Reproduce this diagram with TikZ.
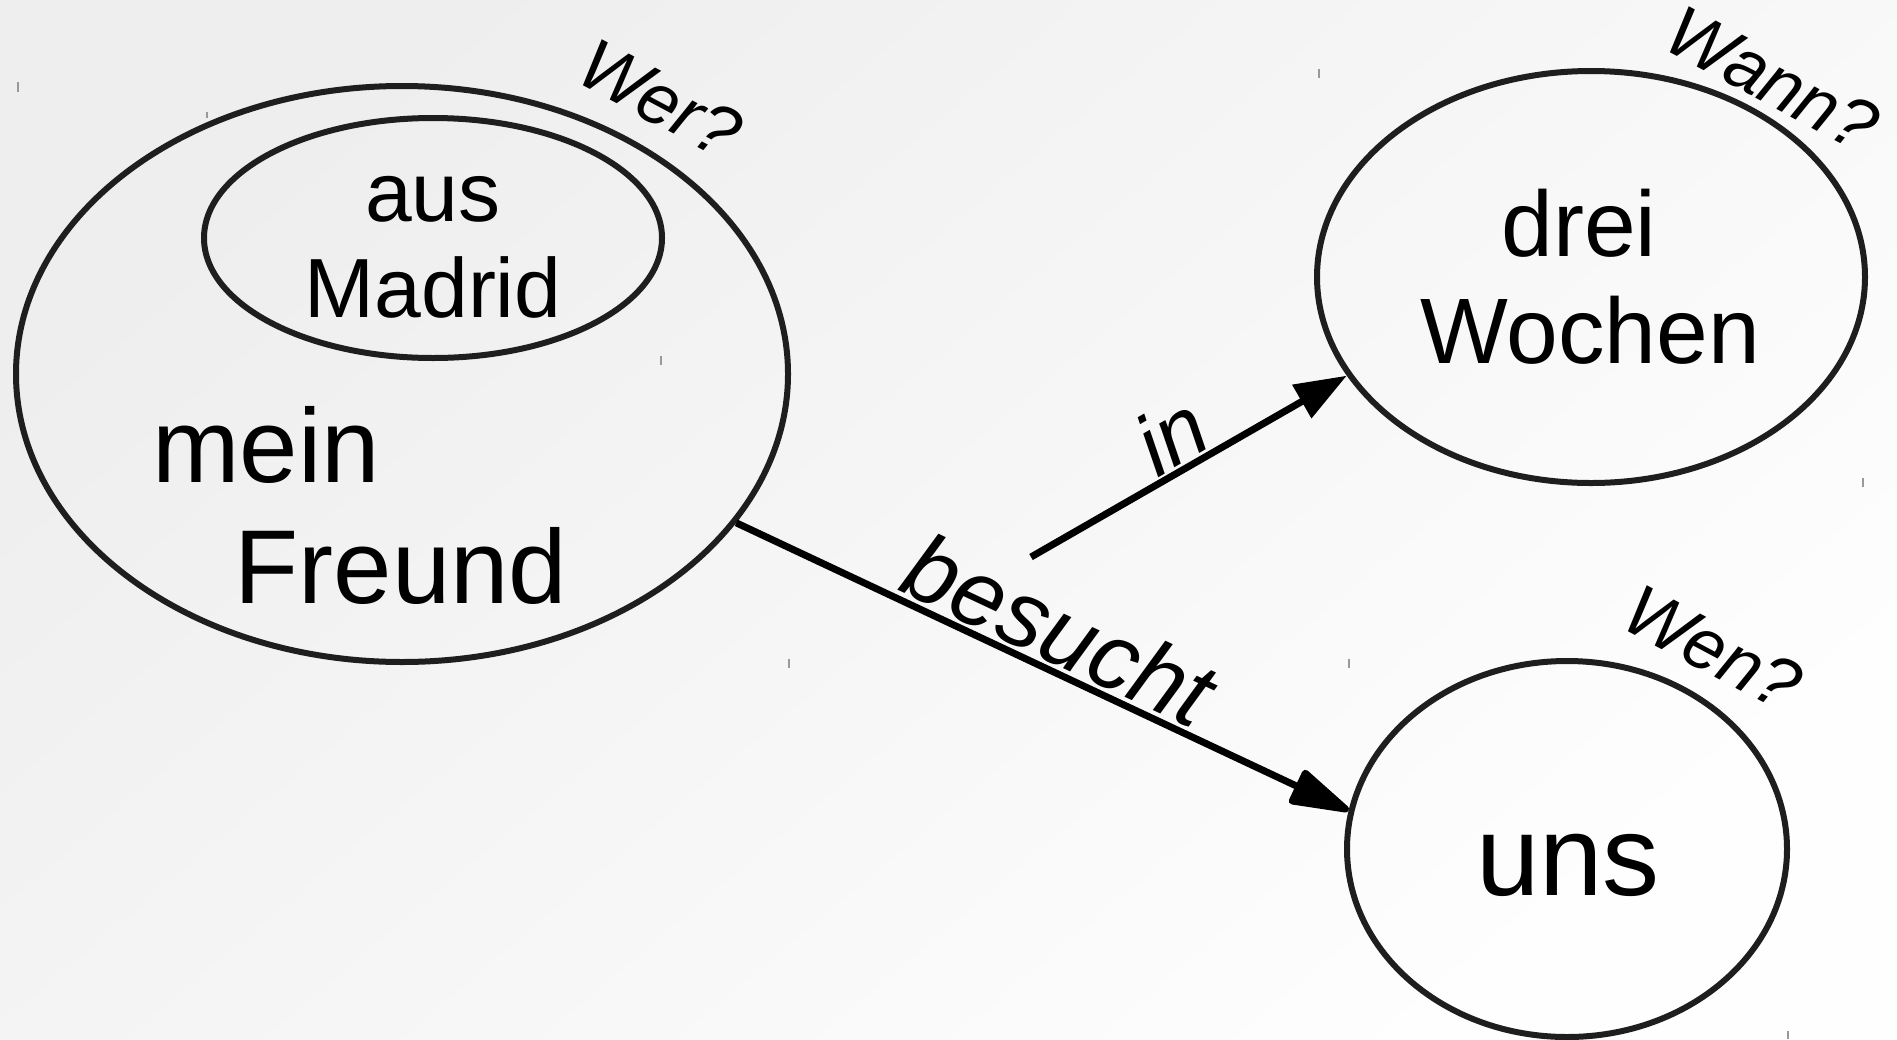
\documentclass[tikz,border=0pt]{standalone}
\usepackage{fontspec}
\setmainfont{Liberation Sans}
\usetikzlibrary{shapes, arrows.meta, positioning}
\definecolor{randfarbe}{HTML}{1E1E1E}
\definecolor{hgoben}{HTML}{EEEEEE}
\definecolor{hgunten}{HTML}{FEFEFE}
\tikzstyle{blase} = [draw=randfarbe, line width=6pt, ellipse, inner sep=0pt]
\tikzstyle{wort} = [anchor=base, inner sep=0pt]
\tikzstyle{frage} = [font=\fontsize{72}{72}\selectfont\itshape, rotate=-28, inner sep=0pt]
\tikzstyle{pfeil} = [draw=black, line width=7pt]
\tikzstyle{marke} = [draw=gray!80, line width=2pt]

\begin{document}
\begin{tikzpicture}[x=1pt, y=-1pt]
	\useasboundingbox (0,0) rectangle (1897,1039);
	\shade[top color=hgoben, bottom color=hgunten, shading angle=40] (0,0) rectangle (1897,1039);

	\node [blase, minimum width=772pt, minimum height=576pt] (freund) at (402,374) {};
	\node [blase, minimum width=458pt, minimum height=240pt] (madrid) at (433,238) {};
	\node [blase, minimum width=548pt, minimum height=412pt] (wochen) at (1591,277) {};
	\node [blase, minimum width=440pt, minimum height=376pt] (uns) at (1567,849) {};

	\node [wort, font=\fontsize{84}{84}\selectfont] (aus) at (433,221) {aus};
	\node [wort, font=\fontsize{84}{84}\selectfont] (madridtext) at (433,317) {Madrid};
	\node [wort, font=\fontsize{105}{105}\selectfont] (mein) at (266,482) {mein};
	\node [wort, font=\fontsize{105}{105}\selectfont] (freundtext) at (401,603) {Freund};
	\node [wort, font=\fontsize{93}{93}\selectfont] (drei) at (1579,256) {drei};
	\node [wort, font=\fontsize{93}{93}\selectfont] (wochentext) at (1590,363) {Wochen};
	\node [wort, font=\fontsize{114}{114}\selectfont] (unstext) at (1568,895) {uns};

	\node [frage] (wer) at (660,99) {Wer?};
	\node [frage] (wann) at (1772,79) {Wann?};
	\node [frage] (wen) at (1713,648) {Wen?};

	\coordinate (inanfang) at (1031,557);
	\draw [pfeil, -{Triangle[length=68pt, width=38pt, round]}] (freund.-24) -- node[midway, above, sloped, inner sep=3pt, font=\fontsize{94}{94}\selectfont\itshape] (besucht) {besucht} (uns.170);
	\draw [pfeil, -{Triangle[length=52pt, width=37pt]}] (inanfang) -- node[pos=0.5, above, sloped, inner sep=2pt, font=\fontsize{86}{86}\selectfont\itshape] (in) {in} (wochen.202);

	\foreach \x/\y/\h in {18/87/10, 207/115/6, 661/360/9, 789/663/9, 1319/73/9, 1863/482/9, 1349/663/9, 1788/1035/8}
		\draw [marke] (\x,\y-\h/2) -- (\x,\y+\h/2);
\end{tikzpicture}
\end{document}
